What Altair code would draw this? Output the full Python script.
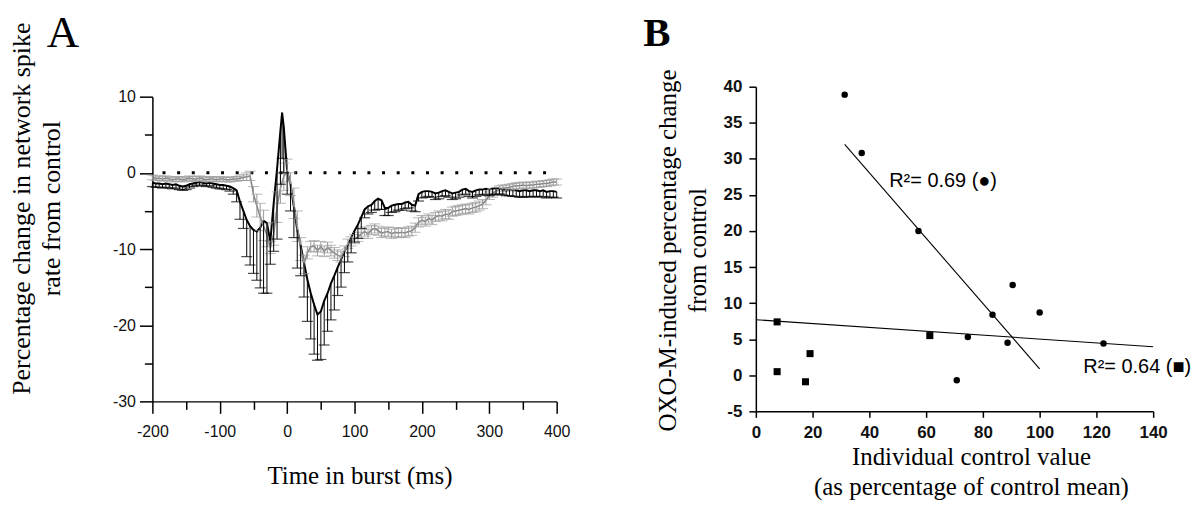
import altair as alt
import pandas as pd

# ---------------- Panel A data ----------------
black_time = list(range(-200, -5, 5)) + [-7.5] + list(range(-5, 405, 5))
black_mean = [
    -1.3, -1.4, -1.4, -1.5, -1.4, -1.5, -1.6, -1.5, -1.7, -1.8,
    -1.7, -1.5, -1.4, -1.3, -1.2, -1.3, -1.4, -1.3, -1.4, -1.5,
    -1.6, -1.6, -1.7, -1.8, -2.0, -2.3, -3.8, -5.0, -6.2, -7.0,
    -7.5, -7.7, -7.2, -6.3, -6.6, -9.0, -4.0, 0.5, 5.5,
    7.9,
    6.0, 0.2, -1.5, -4.5, -7.5, -9.5, -11.8, -14.0, -15.8, -17.3,
    -18.6, -18.2, -16.8, -15.8, -14.5, -13.5, -12.4, -11.4, -10.3, -9.5,
    -8.5, -7.6, -6.8, -5.8, -4.8, -4.4, -4.2, -3.7, -3.4, -3.6,
    -4.6, -4.6, -4.3, -4.2, -4.1, -4.1, -3.9, -3.8, -4.2, -4.3,
    -2.8, -2.5, -2.4, -2.4, -2.5, -2.7, -2.6, -2.4, -2.3, -2.5,
    -2.7, -2.6, -2.5, -2.2, -2.1, -2.4, -2.5, -2.3, -2.2, -2.2,
    -2.1, -2.2, -2.1, -2.0, -2.1, -2.2, -2.3, -2.2, -2.3, -2.3,
    -2.4, -2.3, -2.3, -2.4, -2.3, -2.3, -2.4, -2.3, -2.5, -2.4,
    -2.4, -2.5,
]
black_err = [
    0.5, 0.5, 0.5, 0.5, 0.5, 0.5, 0.5, 0.5, 0.5, 0.5,
    0.5, 0.5, 0.4, 0.4, 0.4, 0.4, 0.4, 0.4, 0.5, 0.5,
    0.5, 0.5, 0.5, 0.6, 0.8, 1.5, 2.3, 2.3, 4.8, 5.1,
    5.7, 6.4, 7.9, 9.5, 9.2, 3.0, 6.3, 9.2, 7.0,
    6.0,
    6.0, 3.0, 3.5, 4.0, 5.0, 4.0, 4.5, 5.5, 6.0, 6.5,
    6.0, 6.3, 5.8, 5.0, 4.8, 4.5, 3.7, 3.6, 2.8, 2.2,
    2.0, 1.5, 1.8, 1.5, 1.1, 1.0, 1.0, 1.2, 1.4, 1.2,
    1.0, 1.0, 0.9, 0.9, 0.8, 0.8, 0.8, 0.8, 0.8, 0.8,
    0.9, 0.8, 0.8, 0.7, 0.7, 0.8, 0.8, 0.7, 0.7, 0.7,
    0.8, 0.8, 0.7, 0.7, 0.7, 0.7, 0.8, 0.8, 0.7, 0.7,
    0.7, 0.8, 0.8, 0.8, 0.7, 0.7, 0.7, 0.8, 0.8, 0.8,
    0.8, 0.9, 0.8, 0.8, 0.8, 0.8, 0.8, 0.8, 0.8, 0.8,
    0.8, 0.8,
]

gray_time = list(range(-200, 405, 5))
gray_mean = [
    -0.6, -0.7, -0.7, -0.8, -0.7, -0.8, -0.9, -0.8, -0.8, -0.9,
    -0.8, -0.7, -0.8, -0.8, -0.7, -0.8, -0.9, -0.8, -0.8, -0.9,
    -0.8, -0.8, -0.9, -0.9, -0.8, -0.8, -0.7, -0.6, -0.5, -0.4,
    -2.8, -4.3, -5.8, -6.9, -8.2, -9.8, -8.0, -4.5, -2.0, -0.5,
    0.3, -1.5, -4.0, -7.0, -10.0, -12.0, -10.5, -9.7, -9.6, -10.2,
    -9.7, -10.3, -9.8, -10.2, -10.5, -10.8, -11.0, -10.3, -9.3, -9.0,
    -8.7, -8.4, -8.0, -7.7, -8.0, -7.5, -7.3, -7.6, -7.9, -7.8,
    -7.7, -8.0, -7.8, -7.9, -7.8, -7.9, -7.7, -7.6, -7.2, -6.5,
    -6.2, -6.4, -6.0, -6.2, -5.8, -5.6, -5.7, -5.4, -5.5, -5.1,
    -5.0, -4.9, -4.8, -4.7, -4.8, -4.6, -4.5, -4.3, -4.1, -3.6,
    -3.0, -2.7, -2.4, -2.2, -2.0, -2.0, -1.9, -1.8, -1.7, -1.7,
    -1.6, -1.7, -1.6, -1.6, -1.5, -1.5, -1.4, -1.4, -1.3, -1.2,
    -1.2,
]
gray_err = [
    0.3, 0.3, 0.3, 0.3, 0.3, 0.3, 0.3, 0.3, 0.3, 0.3,
    0.3, 0.3, 0.3, 0.3, 0.3, 0.3, 0.3, 0.3, 0.3, 0.3,
    0.3, 0.3, 0.3, 0.3, 0.3, 0.3, 0.3, 0.4, 0.5, 0.6,
    1.0, 1.5, 1.8, 2.0, 1.5, 0.8, 1.5, 2.0, 2.0, 1.8,
    1.5, 1.5, 2.0, 2.0, 1.5, 1.2, 0.8, 0.7, 0.7, 0.7,
    0.7, 0.7, 0.7, 0.7, 0.7, 0.7, 0.7, 0.7, 0.6, 0.6,
    0.6, 0.6, 0.6, 0.6, 0.6, 0.6, 0.6, 0.6, 0.6, 0.6,
    0.6, 0.6, 0.6, 0.6, 0.6, 0.6, 0.6, 0.6, 0.6, 0.6,
    0.6, 0.6, 0.6, 0.6, 0.6, 0.6, 0.6, 0.6, 0.6, 0.6,
    0.6, 0.6, 0.6, 0.6, 0.6, 0.6, 0.6, 0.6, 0.6, 0.6,
    0.5, 0.5, 0.5, 0.5, 0.4, 0.4, 0.4, 0.4, 0.4, 0.4,
    0.4, 0.4, 0.4, 0.4, 0.4, 0.4, 0.4, 0.4, 0.4, 0.4,
    0.4,
]

zero_line_x = [-185, 385]
a_x_major = [-200, -100, 0, 100, 200, 300, 400]
a_x_minor = [-150, -50, 50, 150, 250, 350]
a_y_major = [-30, -20, -10, 0, 10]
a_y_minor = [-25, -15, -5, 5]

# ---------------- Panel B data ----------------
circle_x = [31.3, 37.3, 57.3, 83.4, 90.5, 100.0, 74.7, 88.7, 70.8, 122.5]
circle_y = [38.9, 30.8, 20.0, 8.4, 12.5, 8.7, 5.3, 4.5, -0.7, 4.4]
square_x = [7.5, 7.5, 17.5, 19.1, 61.3]
square_y = [7.4, 0.5, -0.9, 3.0, 5.5]
circle_fit_x = [31.3, 100.0]
circle_fit_y = [32.0, 0.9]
square_fit_x = [0.0, 140.0]
square_fit_y = [7.7, 3.95]
ann_text = ["R\u00b2= 0.69 (\u25cf)", "R\u00b2= 0.64 (\u25a0)"]
ann_x = [47.0, 115.4]
ann_y = [26.1, 0.3]
b_x_ticks = [0, 20, 40, 60, 80, 100, 120, 140]
b_y_ticks = [-5, 0, 5, 10, 15, 20, 25, 30, 35, 40]

SERIF = "Liberation Serif, Times New Roman, serif"
SANS = "Liberation Sans, Arial, sans-serif"
PLAIN_LABEL = "datum.value + ''"

# ---------------- Panel A ----------------
black = pd.DataFrame({"t": black_time, "m": black_mean, "e": black_err})
black["lo"] = black["m"] - black["e"]
gray = pd.DataFrame({"t": gray_time, "m": gray_mean, "e": gray_err})
gray["lo"] = gray["m"] - gray["e"]
gray["hi"] = gray["m"] + gray["e"]
zero = pd.DataFrame({"x1": [zero_line_x[0]], "x2": [zero_line_x[1]], "y": [0]})

xs_a = alt.Scale(domain=[-200, 400], nice=False, zero=False)
ys_a = alt.Scale(domain=[-30, 10], nice=False, zero=False)

ax_common = dict(domainColor="black", tickColor="black", domainWidth=1.5, tickWidth=1.5,
                 grid=False, labelFont=SANS, labelFontSize=16, labelColor="#111",
                 labelFlush=False, labelOverlap=False, labelExpr=PLAIN_LABEL)

x_main = alt.Axis(orient="bottom", values=a_x_major, tickSize=12, labelPadding=10,
                  title="Time in burst (ms)", titleFont=SERIF, titleFontSize=25,
                  titleFontWeight="normal", titleColor="black", titleBaseline="alphabetic",
                  titleX=208, titleY=82, titleAlign="center", **ax_common)
y_main = alt.Axis(orient="left", values=a_y_major, tickSize=13, labelPadding=4,
                  title=["Percentage change in network spike", "rate from control"],
                  titleFont=SERIF, titleFontSize=26, titleFontWeight="normal",
                  titleColor="black", titleBaseline="alphabetic", titleAngle=270,
                  titleAlign="center", titleX=-123, titleY=112, titleLineHeight=30,
                  **ax_common)
x_minor = alt.Axis(values=a_x_minor, tickSize=8, labels=False, domain=False, title=None,
                   grid=False, tickColor="black", tickWidth=1.5, orient="bottom")
y_minor = alt.Axis(values=a_y_minor, tickSize=8, labels=False, domain=False, title=None,
                   grid=False, tickColor="black", tickWidth=1.5, orient="left")

zero_layer = alt.Chart(zero).mark_rule(color="black", strokeWidth=3, strokeDash=[3, 11.7]).encode(
    x=alt.X("x1:Q", scale=xs_a, axis=None), x2="x2:Q", y=alt.Y("y:Q", scale=ys_a, axis=None))

gray_err_layer = alt.Chart(gray).mark_rule(color="#9a9a9a", strokeWidth=1).encode(
    x=alt.X("t:Q", scale=xs_a, axis=None), y=alt.Y("lo:Q", scale=ys_a, axis=None), y2="hi:Q")
gray_cap_lo = alt.Chart(gray).mark_tick(orient="horizontal", size=11, thickness=1, color="#9a9a9a").encode(
    x=alt.X("t:Q", scale=xs_a, axis=None), y=alt.Y("lo:Q", scale=ys_a, axis=None))
gray_cap_hi = alt.Chart(gray).mark_tick(orient="horizontal", size=11, thickness=1, color="#9a9a9a").encode(
    x=alt.X("t:Q", scale=xs_a, axis=None), y=alt.Y("hi:Q", scale=ys_a, axis=None))
gray_line = alt.Chart(gray).mark_line(color="#858585", strokeWidth=1.6).encode(
    x=alt.X("t:Q", scale=xs_a, axis=x_minor), y=alt.Y("m:Q", scale=ys_a, axis=y_minor))

black_err_layer = alt.Chart(black).mark_rule(color="black", strokeWidth=1).encode(
    x=alt.X("t:Q", scale=xs_a, axis=None), y=alt.Y("m:Q", scale=ys_a, axis=None), y2="lo:Q")
black_cap = alt.Chart(black).mark_tick(orient="horizontal", size=11, thickness=1.2, color="black").encode(
    x=alt.X("t:Q", scale=xs_a, axis=None), y=alt.Y("lo:Q", scale=ys_a, axis=None))
black_line = alt.Chart(black).mark_line(color="black", strokeWidth=2).encode(
    x=alt.X("t:Q", scale=xs_a, axis=x_main), y=alt.Y("m:Q", scale=ys_a, axis=y_main))

letter_a = alt.Chart(pd.DataFrame({"label": ["A"]})).mark_text(
    font=SERIF, fontSize=45, align="left", baseline="alphabetic", color="black").encode(
    x=alt.value(-106), y=alt.value(-50), text="label:N")

panel_a = alt.layer(
    black_line, gray_line, zero_layer, gray_err_layer, gray_cap_lo, gray_cap_hi,
    black_err_layer, black_cap, letter_a
).resolve_axis(x="independent", y="independent").properties(width=406, height=306)

# ---------------- Panel B ----------------
xs_b = alt.Scale(domain=[0, 140], nice=False, zero=False)
ys_b = alt.Scale(domain=[-5, 40], nice=False, zero=False)

b_ax = dict(domainColor="black", tickColor="black", domainWidth=1.5, tickWidth=1.5,
            grid=False, labelFont=SANS, labelFontSize=17, labelFontWeight="bold",
            labelColor="#111", labelFlush=False, labelOverlap=False, labelExpr=PLAIN_LABEL,
            titleFont=SERIF, titleFontSize=25, titleFontWeight="normal",
            titleColor="black", titleBaseline="alphabetic", titleAlign="center")
bx_axis = alt.Axis(orient="bottom", values=b_x_ticks, tickSize=6, labelPadding=7,
                   title=["Individual control value", "(as percentage of control mean)"],
                   titleX=216, titleY=53, titleLineHeight=31, **b_ax)
by_axis = alt.Axis(orient="left", values=b_y_ticks, tickSize=7, labelPadding=7,
                   title=["OXO-M-induced percentage change", "from control"],
                   titleAngle=270, titleX=-81, titleY=164, titleLineHeight=30, **b_ax)

circles = pd.DataFrame({"x": circle_x, "y": circle_y})
squares = pd.DataFrame({"x": square_x, "y": square_y})
cfit = pd.DataFrame({"x": circle_fit_x, "y": circle_fit_y})
sfit = pd.DataFrame({"x": square_fit_x, "y": square_fit_y})
ann = pd.DataFrame({"x": ann_x, "y": ann_y, "t": ann_text})

bx = alt.X("x:Q", scale=xs_b, axis=bx_axis)
by = alt.Y("y:Q", scale=ys_b, axis=by_axis)

cfit_layer = alt.Chart(cfit).mark_line(color="black", strokeWidth=1.1).encode(x=bx, y=by)
sfit_layer = alt.Chart(sfit).mark_line(color="black", strokeWidth=1.1).encode(x=bx, y=by)
circle_layer = alt.Chart(circles).mark_point(shape="circle", filled=True, size=42, color="black", opacity=1).encode(x=bx, y=by)
square_layer = alt.Chart(squares).mark_point(shape="square", filled=True, size=50, color="black", opacity=1).encode(x=bx, y=by)
ann_layer = alt.Chart(ann).mark_text(font=SANS, fontSize=20, align="left", baseline="alphabetic", color="black").encode(
    x=bx, y=by, text="t:N")
letter_b = alt.Chart(pd.DataFrame({"label": ["B"]})).mark_text(
    font=SERIF, fontSize=41, fontWeight="bold", align="left", baseline="alphabetic", color="black").encode(
    x=alt.value(-113), y=alt.value(-41), text="label:N")

panel_b = alt.layer(
    sfit_layer, cfit_layer, square_layer, circle_layer, ann_layer, letter_b
).properties(width=399, height=326)

chart = alt.hconcat(panel_a, panel_b, spacing=200, center=True, bounds="flush").properties(
    padding={"left": 0, "top": 2, "right": 0, "bottom": 0}
).configure(background="white").configure_view(stroke=None)

chart.save("out.html", embed_options={"renderer": "svg", "actions": False})
